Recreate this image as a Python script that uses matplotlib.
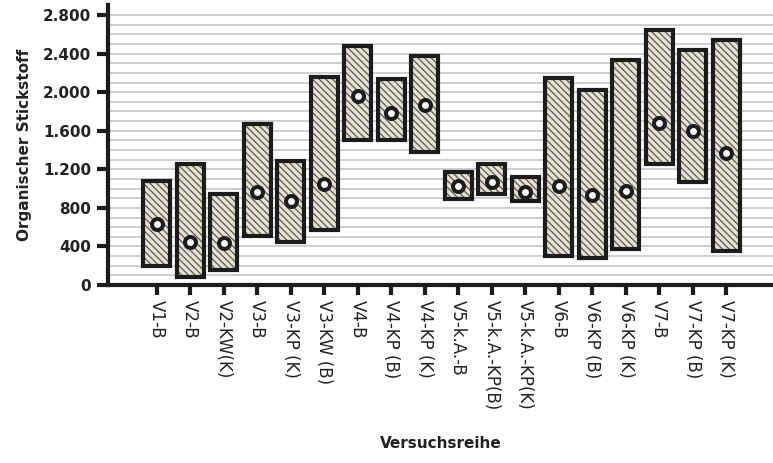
import numpy as np
import matplotlib
matplotlib.use("Agg")
from matplotlib import pyplot as plt

# values
labels = ["V1-B", "V2-B", "V2-KW(K)", "V3-B", "V3-KP (K)", "V3-KW (B)",
          "V4-B", "V4-KP (B)", "V4-KP (K)", "V5-k.A.-B", "V5-k.A.-KP(B)",
          "V5-k.A.-KP(K)", "V6-B", "V6-KP (B)", "V6-KP (K)", "V7-B",
          "V7-KP (B)", "V7-KP (K)"]
low = [200, 80, 160, 510, 450, 570, 1500, 1500, 1380, 890, 940, 870,
       300, 280, 370, 1250, 1070, 350]
high = [1080, 1250, 940, 1670, 1290, 2160, 2480, 2140, 2380, 1170, 1260, 1120,
        2150, 2020, 2330, 2640, 2440, 2540]
mean = [630, 450, 440, 960, 870, 1050, 1960, 1780, 1870, 1030, 1070, 960,
        1030, 930, 970, 1680, 1600, 1370]
yticks = [0, 400, 800, 1200, 1600, 2000, 2400, 2800]

dark = "#1c1c1c"
plt.rcParams["hatch.linewidth"] = 0.9

fig = plt.figure(figsize=(7.73, 4.63), dpi=100)
ax = fig.add_axes([0.1397, 0.3844, 0.8603, 0.6048])

x = np.arange(len(labels))
low = np.array(low)
high = np.array(high)

# horizontal grid every 100
for g in range(100, 2900, 100):
    ax.axhline(g, color="#cbcbcb", lw=1.3, zorder=0)

ax.bar(x, high - low, bottom=low, width=0.81, color="#e6e2d2",
       edgecolor="#5a5a5a", hatch="\\" * 5, lw=0, zorder=2)
ax.bar(x, high - low, bottom=low, width=0.81, fill=False,
       edgecolor=dark, lw=3, zorder=3)
ax.plot(x, mean, "o", ms=7.9, mfc="white", mec=dark, mew=2.9, zorder=4)

ax.set_xlim(-1.46, 18.4)
ax.set_ylim(0, 2904)

ax.set_yticks(yticks)
ax.set_yticklabels([f"{v:,}".replace(",", ".") for v in yticks],
                   fontsize=11, fontweight="bold", color="#222222")
ax.set_xticks(x)
ax.set_xticklabels(labels, rotation=270, fontsize=12, color="#222222",
                   ha="center", va="top")

ax.tick_params(axis="y", length=8, width=3, color=dark, pad=4)
ax.tick_params(axis="x", length=7, width=3, color=dark, pad=4)

for s in ["top", "right"]:
    ax.spines[s].set_visible(False)
for s in ["left", "bottom"]:
    ax.spines[s].set_linewidth(3)
    ax.spines[s].set_color(dark)

ax.set_ylabel("Organischer Stickstoff", fontsize=11, fontweight="bold",
              color="#222222", labelpad=8)
ax.set_xlabel("Versuchsreihe", fontsize=11, fontweight="bold",
              color="#222222", labelpad=18)

fig.savefig("out.png", dpi=100)
